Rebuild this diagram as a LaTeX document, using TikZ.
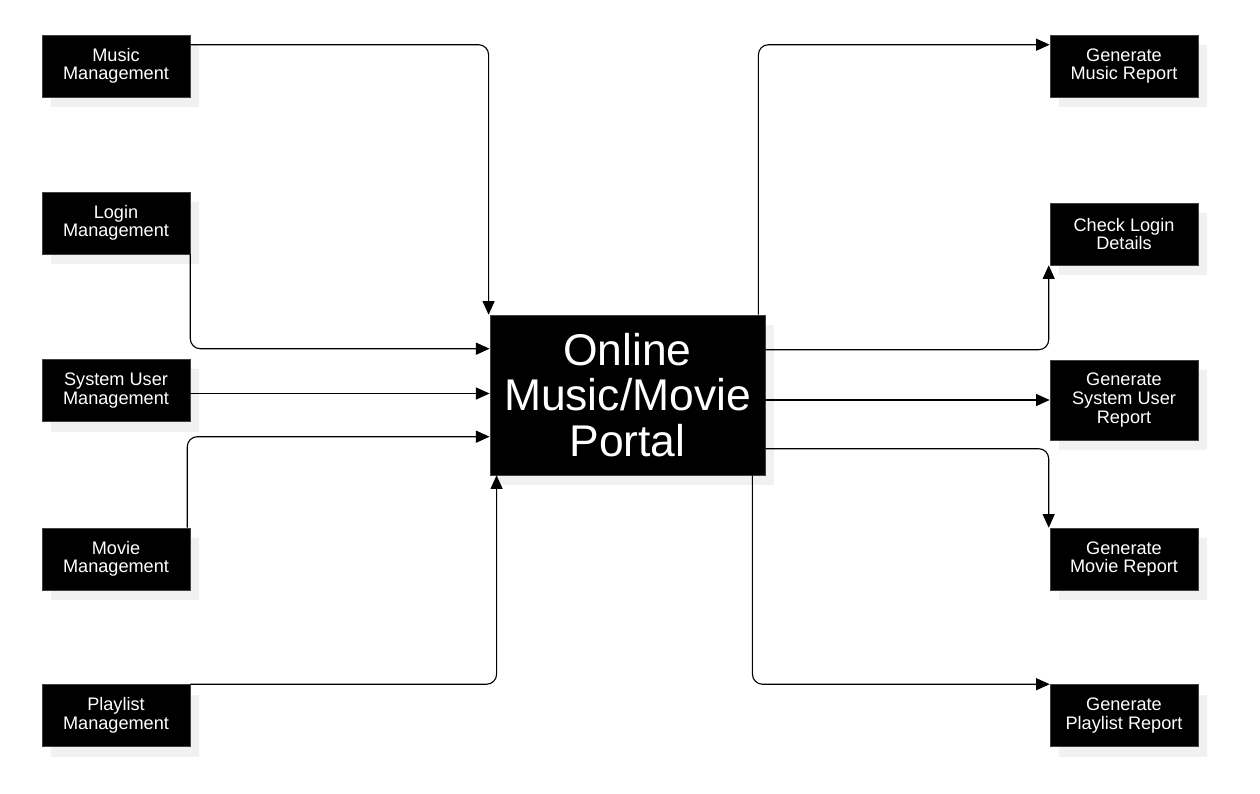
\documentclass[tikz,border=0pt]{standalone}
\usepackage{fontspec}
\setmainfont{Liberation Sans}
\usetikzlibrary{arrows.meta, calc, shadows}
\definecolor{shade}{HTML}{F1F1F1}
\tikzset{
	>={Triangle[length=0.34cm, width=0.3cm]}, % Punta de flecha rellena
	flow/.style={->, line width=0.8pt, rounded corners=0.25cm}, % Conectores
	procbox/.style={fill=black, draw=black!75, line width=0.4pt, text=white,
		align=center, minimum width=3.7cm, minimum height=1.55cm, inner sep=0pt,
		font=\fontsize{12.9}{13.2}\selectfont,
		drop shadow={shadow xshift=0.23cm, shadow yshift=-0.25cm, fill=shade, opacity=1}},
	portalbox/.style={procbox, minimum width=6.88cm, minimum height=4cm,
		font=\fontsize{31.6}{32.2}\selectfont}
}

\begin{document}
\begin{tikzpicture}[x=0.025cm, y=-0.025cm]
	\useasboundingbox (0,0) rectangle (1260,794);
	% Caja central
	\node[portalbox] (portal) at (627.5,395) {Online\\Music/Movie\\Portal};
	% Entradas
	\node[procbox] (music) at (116,66) {Music\\Management};
	\node[procbox] (login) at (116,223) {Login\\Management};
	\node[procbox] (sysuser) at (116,390.5) {System User\\Management};
	\node[procbox] (movie) at (116,559) {Movie\\Management};
	\node[procbox] (playlist) at (116,715.5) {Playlist\\Management};
	% Salidas
	\node[procbox] (musrep) at (1124,66) {Generate\\Music Report};
	\node[procbox] (chklogin) at (1124,234) {Check Login\\Details};
	\node[procbox, minimum height=2cm] (sysrep) at (1124,400) {Generate\\System User\\Report};
	\node[procbox] (movrep) at (1124,559) {Generate\\Movie Report};
	\node[procbox] (plrep) at (1124,715.5) {Generate\\Playlist Report};
	% Conectores de entrada
	\draw[flow] (music.north east) ++(0,10) -| ($(portal.north west)+(-1,0)$);
	\draw[flow] (login.south east) |- ($(portal.north west)+(0,34)$);
	\draw[flow] ($(sysuser.east)+(0,3)$) -- ($(portal.west |- sysuser.east)+(0,3)$);
	\draw[flow] ($(movie.north east)+(-3,0)$) |- ($(portal.north west)+(0,122)$);
	\draw[flow] (playlist.north east) -| ($(portal.south west)+(7,0)$);
	% Conectores de salida
	\draw[flow] ($(portal.north east)+(-7,0)$) |- ($(musrep.north west)+(0,10)$);
	\draw[flow] ($(portal.north east)+(0,35)$) -| ($(chklogin.south west)+(-1,0)$);
	\draw[flow] (portal.east |- sysrep.west) -- (sysrep.west);
	\draw[flow] ($(portal.north east)+(0,134)$) -| ($(movrep.north west)+(-1,0)$);
	\draw[flow] ($(portal.south east)+(-13,0)$) |- (plrep.north west);
\end{tikzpicture}
\end{document}
